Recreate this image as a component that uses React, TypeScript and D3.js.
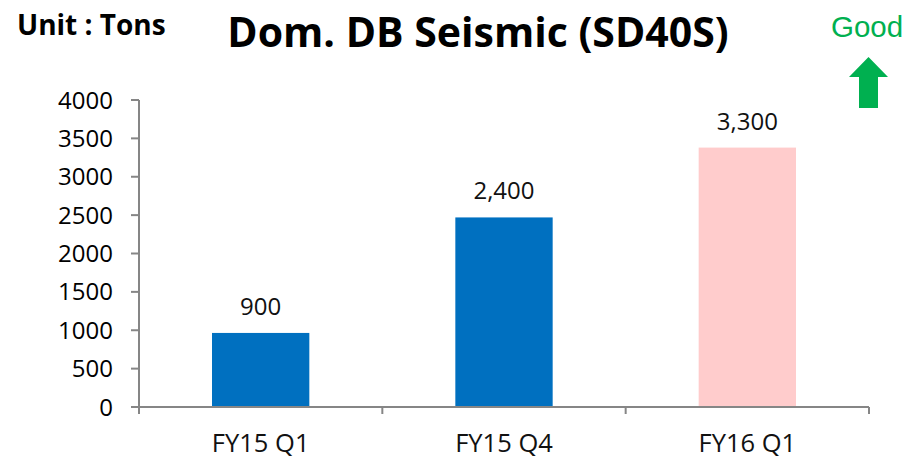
import React from "react";
import * as d3 from "d3";

const categories = ["FY15 Q1", "FY15 Q4", "FY16 Q1"];
const values = [965, 2470, 3380];
const valueLabels = ["900", "2,400", "3,300"];
const barColors = ["#0070C0", "#0070C0", "#FFCCCC"];
const yTicks = [0, 500, 1000, 1500, 2000, 2500, 3000, 3500, 4000];

const W = 909;
const H = 458;
const left = 139;
const right = 869;
const top = 100;
const bottom = 407;

export default function App() {
  const x = d3.scaleBand<string>().domain(categories).range([left, right]).paddingInner(0.6).paddingOuter(0.3);
  const xb = d3.scaleBand<string>().domain(categories).range([left, right]);
  const y = d3.scaleLinear().domain([0, 4000]).range([bottom, top]);
  const font = "'Open Sans', sans-serif";
  const axisColor = "#868686";
  const boundaries = [...categories.map((c) => xb(c) as number), right];
  return (
    <svg width={W} height={H} style={{ position: "absolute", left: 0, top: 0 }}>
      <rect width={W} height={H} fill="#fff" />
      {categories.map((c, i) => (
        <rect key={c} x={x(c)} y={y(values[i])} width={x.bandwidth()} height={bottom - y(values[i])} fill={barColors[i]} />
      ))}
      <line x1={left} x2={left} y1={top} y2={bottom + 6} stroke={axisColor} strokeWidth={2} />
      <line x1={left} x2={right} y1={bottom} y2={bottom} stroke={axisColor} strokeWidth={2} />
      {yTicks.map((t) => (
        <g key={t}>
          <line x1={left - 8} x2={left} y1={y(t)} y2={y(t)} stroke={axisColor} strokeWidth={2} />
          <text x={113} y={y(t) + 8.5} textAnchor="end" fontFamily={font} fontSize={24} fill="#000">{t}</text>
        </g>
      ))}
      {boundaries.map((b, i) => (
        <line key={i} x1={b} x2={b} y1={bottom} y2={bottom + 7} stroke={axisColor} strokeWidth={2} />
      ))}
      {categories.map((c, i) => (
        <text key={c} x={(xb(c) as number) + xb.bandwidth() / 2} y={452} textAnchor="middle" fontFamily={font} fontSize={25.5} fill="#111">{c}</text>
      ))}
      {categories.map((c, i) => (
        <text key={c + "l"} x={(x(c) as number) + x.bandwidth() / 2} y={y(values[i]) - 18} textAnchor="middle" fontFamily={font} fontSize={24} fill="#111">{valueLabels[i]}</text>
      ))}
      <text x={478} y={47} textAnchor="middle" fontFamily={font} fontWeight={700} fontSize={41} fill="#000">Dom. DB Seismic (SD40S)</text>
      <text x={17} y={35} fontFamily={font} fontWeight={700} fontSize={28} fill="#000">Unit : Tons</text>
      <text x={831} y={37} fontFamily="'Liberation Sans', Arial, sans-serif" fontSize={29.5} fill="#00B050">Good</text>
      <path d="M868.5,57 L888,77 L878,77 L878,108 L859,108 L859,77 L849,77 Z" fill="#00B050" />
    </svg>
  );
}
